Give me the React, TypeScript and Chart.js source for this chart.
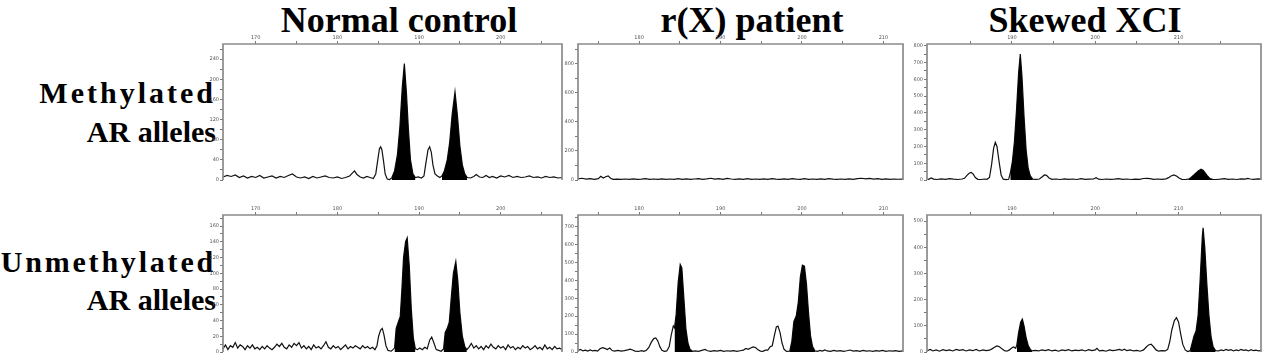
import React, { useEffect, useRef } from 'react';
import { Chart, registerables } from 'chart.js';

Chart.register(...registerables);

// ---------- Column / row titles ----------
const columnTitles = ['Normal control', 'r(X) patient', 'Skewed XCI'];
const rowTitles = [
  ['Methylated', 'AR alleles'],
  ['Unmethylated', 'AR alleles'],
];

// ---------- X-axis (size, bp) ranges per column ----------
const colXRange = [
  [166.0, 207.5],
  [172.5, 212.4],
  [179.8, 219.9],
];

// ---------- Normal control, methylated ----------
const ncMethX = [166.0, 166.5, 167.0, 167.5, 168.0, 168.5, 169.0, 169.5, 170.0, 170.5, 171.0, 171.5, 172.0, 172.5, 173.0, 173.5, 174.0, 174.5, 175.0, 175.5, 176.0, 176.5, 177.0, 177.5, 178.0, 178.5, 179.0, 179.5, 180.0, 180.5, 181.0, 181.5, 181.8, 182.1, 182.4, 182.8, 183.2, 183.6, 184.0, 184.4, 184.7, 184.95, 185.15, 185.3, 185.45, 185.65, 185.85, 186.1, 186.4, 186.65, 187.0, 187.35, 187.65, 187.95, 188.2, 188.45, 188.7, 188.95, 189.25, 189.55, 189.9, 190.3, 190.6, 190.85, 191.1, 191.3, 191.5, 191.7, 191.95, 192.25, 192.55, 192.8, 193.1, 193.45, 193.75, 194.05, 194.4, 194.7, 195.0, 195.3, 195.6, 195.9, 196.3, 196.7, 197.0, 197.4, 197.8, 198.2, 198.6, 199.0, 199.5, 200.0, 200.5, 201.0, 201.5, 202.0, 202.5, 203.0, 203.5, 204.0, 204.5, 205.0, 205.5, 206.0, 206.5, 207.0, 207.5];
const ncMethY = [6, 9, 7, 10, 5, 8, 4, 7, 5, 9, 4, 6, 8, 4, 7, 5, 9, 12, 6, 4, 6, 3, 7, 4, 6, 8, 5, 4, 6, 3, 5, 8, 13, 18, 11, 6, 4, 7, 5, 3, 12, 40, 62, 66, 60, 38, 12, 2, 1, 4, 18, 50, 105, 185, 231, 175, 100, 40, 12, 5, 6, 4, 8, 35, 60, 66, 55, 30, 12, 8, 5, 8, 18, 40, 75, 130, 175, 128, 68, 30, 12, 5, 4, 7, 11, 6, 5, 9, 5, 7, 4, 8, 6, 9, 5, 7, 5, 6, 8, 5, 6, 4, 7, 5, 6, 4, 5];
const ncMethBlack = [[186.5, 189.6], [192.7, 196.0]];

// ---------- Normal control, unmethylated ----------
const ncUnmX = [166.0, 166.3, 166.6, 166.9, 167.2, 167.5, 167.8, 168.1, 168.4, 168.7, 169.0, 169.3, 169.6, 169.9, 170.2, 170.5, 170.8, 171.1, 171.4, 171.7, 172.0, 172.3, 172.6, 172.9, 173.2, 173.5, 173.8, 174.1, 174.4, 174.7, 175.0, 175.3, 175.6, 175.9, 176.2, 176.5, 176.8, 177.1, 177.4, 177.7, 178.0, 178.3, 178.6, 178.9, 179.2, 179.5, 179.8, 180.1, 180.4, 180.7, 181.0, 181.3, 181.6, 181.9, 182.2, 182.5, 182.8, 183.1, 183.4, 183.7, 184.0, 184.3, 184.6, 184.85, 185.05, 185.3, 185.5, 185.7, 185.95, 186.2, 186.6, 187.0, 187.2, 187.45, 187.7, 187.9, 188.1, 188.35, 188.55, 188.8, 189.05, 189.3, 189.55, 189.8, 190.1, 190.4, 190.7, 191.0, 191.3, 191.55, 191.8, 192.1, 192.4, 192.7, 193.0, 193.2, 193.45, 193.7, 193.95, 194.2, 194.5, 194.75, 195.0, 195.3, 195.6, 195.85, 196.1, 196.4, 196.7, 197.0, 197.3, 197.6, 197.9, 198.2, 198.5, 198.8, 199.1, 199.4, 199.7, 200.0, 200.3, 200.6, 200.9, 201.2, 201.5, 201.8, 202.1, 202.4, 202.7, 203.0, 203.3, 203.6, 203.9, 204.2, 204.5, 204.8, 205.1, 205.4, 205.7, 206.0, 206.3, 206.6, 206.9, 207.2, 207.5];
const ncUnmY = [4, 9, 3, 8, 6, 12, 5, 9, 7, 3, 8, 5, 9, 4, 6, 3, 7, 4, 8, 5, 3, 6, 10, 7, 11, 6, 4, 9, 6, 11, 8, 12, 5, 8, 4, 7, 3, 9, 5, 7, 4, 8, 13, 6, 4, 8, 5, 7, 3, 6, 9, 4, 7, 5, 8, 6, 4, 8, 5, 7, 4, 6, 3, 8, 20, 28, 30, 22, 8, 2, 1, 5, 30, 38, 45, 80, 120, 140, 145, 110, 55, 18, 4, 3, 5, 3, 6, 4, 15, 19, 12, 3, 2, 1, 4, 25, 30, 38, 70, 100, 115, 90, 50, 20, 7, 3, 6, 11, 5, 8, 4, 7, 3, 8, 5, 10, 6, 4, 8, 5, 7, 3, 9, 5, 7, 3, 6, 4, 8, 5, 7, 3, 5, 8, 4, 6, 3, 9, 4, 6, 3, 7, 4, 5, 3];
const ncUnmBlack = [[186.95, 189.6], [192.95, 195.9]];

// ---------- r(X) patient, methylated ----------
const rxMethX = [172.5, 173.0, 173.5, 174.0, 174.5, 175.0, 175.3, 175.6, 175.9, 176.2, 176.5, 176.8, 177.3, 177.8, 178.3, 178.8, 179.3, 179.8, 180.3, 180.8, 181.3, 181.8, 182.3, 182.8, 183.3, 183.8, 184.3, 184.8, 185.3, 185.8, 186.3, 186.8, 187.3, 187.8, 188.3, 188.8, 189.3, 189.8, 190.3, 190.8, 191.3, 191.8, 192.3, 192.8, 193.3, 193.8, 194.3, 194.8, 195.3, 195.8, 196.3, 196.8, 197.3, 197.8, 198.3, 198.8, 199.3, 199.8, 200.3, 200.8, 201.3, 201.8, 202.3, 202.8, 203.3, 203.8, 204.3, 204.8, 205.3, 205.8, 206.3, 206.8, 207.3, 207.8, 208.3, 208.8, 209.3, 209.8, 210.3, 210.8, 211.3, 211.8, 212.4];
const rxMethY = [8, 12, 6, 10, 5, 9, 25, 14, 22, 28, 12, 5, 6, 4, 7, 5, 8, 4, 6, 9, 5, 7, 4, 8, 5, 7, 4, 9, 5, 8, 4, 7, 10, 5, 8, 12, 6, 9, 5, 11, 7, 4, 8, 5, 9, 4, 7, 5, 8, 4, 9, 6, 4, 8, 5, 10, 6, 4, 9, 5, 7, 4, 8, 5, 9, 6, 4, 7, 5, 8, 4, 9, 12, 8, 11, 6, 9, 5, 8, 4, 7, 5, 6];
const rxMethBlack: number[][] = [];

// ---------- r(X) patient, unmethylated ----------
const rxUnmX = [172.5, 172.8, 173.1, 173.4, 173.7, 174.0, 174.3, 174.6, 174.9, 175.2, 175.5, 175.8, 176.1, 176.4, 176.7, 177.0, 177.4, 177.8, 178.2, 178.6, 178.9, 179.2, 179.5, 179.9, 180.3, 180.6, 180.9, 181.2, 181.5, 181.8, 182.05, 182.3, 182.55, 182.8, 183.1, 183.4, 183.7, 183.95, 184.2, 184.35, 184.55, 184.8, 185.05, 185.25, 185.5, 185.75, 186.0, 186.25, 186.55, 186.9, 187.3, 187.7, 188.1, 188.4, 188.8, 189.2, 189.6, 190.0, 190.4, 190.8, 191.2, 191.6, 192.0, 192.4, 192.8, 193.1, 193.4, 193.7, 194.0, 194.3, 194.6, 194.9, 195.2, 195.5, 195.8, 196.1, 196.35, 196.6, 196.85, 197.05, 197.3, 197.55, 197.8, 198.1, 198.5, 198.75, 199.0, 199.3, 199.55, 199.8, 200.05, 200.3, 200.55, 200.8, 201.05, 201.3, 201.6, 201.9, 202.2, 202.5, 202.8, 203.1, 203.5, 203.9, 204.3, 204.7, 205.1, 205.5, 205.9, 206.3, 206.7, 207.1, 207.5, 207.9, 208.3, 208.7, 209.1, 209.5, 209.9, 210.3, 210.7, 211.1, 211.5, 211.9, 212.4];
const rxUnmY = [8, 14, 6, 10, 5, 12, 6, 9, 5, 18, 24, 20, 14, 22, 8, 5, 9, 5, 8, 12, 16, 11, 5, 3, 8, 4, 10, 25, 55, 75, 79, 62, 30, 10, 4, 6, 30, 95, 145, 135, 210, 390, 489, 470, 300, 130, 50, 15, 4, 6, 4, 9, 14, 7, 4, 8, 5, 9, 4, 7, 5, 8, 4, 7, 10, 20, 15, 22, 28, 25, 12, 5, 4, 10, 10, 30, 35, 90, 140, 145, 110, 50, 15, 3, 5, 60, 170, 202, 280, 420, 485, 480, 380, 220, 90, 30, 6, 4, 9, 5, 12, 6, 4, 9, 5, 8, 4, 7, 11, 5, 8, 4, 9, 5, 7, 4, 8, 5, 9, 4, 7, 5, 8, 4, 6];
const rxUnmBlack = [[184.33, 186.6], [198.45, 201.65]];

// ---------- Skewed XCI, methylated ----------
const skMethX = [179.8, 180.0, 180.3, 180.6, 181.0, 181.5, 182.0, 182.5, 183.0, 183.5, 184.0, 184.3, 184.6, 184.9, 185.1, 185.35, 185.6, 185.9, 186.3, 186.7, 187.0, 187.3, 187.55, 187.8, 188.0, 188.2, 188.45, 188.7, 188.95, 189.3, 189.6, 189.8, 190.05, 190.3, 190.55, 190.8, 191.0, 191.2, 191.45, 191.7, 191.95, 192.2, 192.5, 192.9, 193.3, 193.6, 193.9, 194.15, 194.45, 194.8, 195.3, 195.8, 196.3, 196.8, 197.3, 197.8, 198.3, 198.8, 199.3, 199.8, 200.1, 200.4, 200.8, 201.3, 201.8, 202.3, 202.8, 203.3, 203.8, 204.3, 204.8, 205.3, 205.8, 206.2, 206.6, 207.0, 207.5, 208.0, 208.5, 208.8, 209.1, 209.45, 209.8, 210.1, 210.4, 210.8, 211.2, 211.5, 211.8, 212.1, 212.4, 212.7, 212.95, 213.2, 213.5, 213.8, 214.1, 214.5, 215.0, 215.5, 216.0, 216.5, 217.0, 217.5, 218.0, 218.3, 218.6, 219.0, 219.5, 219.9];
const skMethY = [6, 4, 12, 5, 3, 7, 4, 8, 5, 3, 6, 10, 28, 42, 45, 35, 15, 4, 3, 6, 4, 15, 90, 190, 224, 200, 110, 30, 5, 2, 4, 40, 110, 230, 420, 640, 750, 620, 380, 180, 70, 25, 5, 4, 6, 18, 30, 28, 12, 4, 6, 3, 7, 4, 6, 3, 8, 4, 5, 6, 14, 5, 3, 6, 4, 5, 8, 4, 6, 3, 5, 4, 9, 10, 8, 4, 6, 4, 7, 14, 24, 30, 22, 10, 4, 3, 5, 15, 28, 42, 55, 64, 58, 42, 22, 8, 4, 3, 5, 8, 4, 6, 3, 7, 5, 10, 6, 4, 7, 5];
const skMethBlack = [[189.65, 192.55], [211.15, 214.1]];

// ---------- Skewed XCI, unmethylated ----------
const skUnmX = [179.8, 180.2, 180.5, 180.9, 181.3, 181.7, 182.1, 182.5, 182.9, 183.3, 183.7, 184.1, 184.5, 184.9, 185.3, 185.7, 186.1, 186.5, 186.9, 187.3, 187.6, 187.9, 188.2, 188.5, 188.8, 189.1, 189.4, 189.7, 190.0, 190.2, 190.45, 190.6, 190.8, 191.05, 191.25, 191.45, 191.7, 191.95, 192.2, 192.4, 192.8, 193.2, 193.6, 194.0, 194.4, 194.8, 195.2, 195.6, 196.0, 196.4, 196.8, 197.2, 197.6, 198.0, 198.4, 198.8, 199.2, 199.6, 200.0, 200.2, 200.5, 200.9, 201.3, 201.7, 202.1, 202.5, 202.9, 203.2, 203.5, 203.8, 204.2, 204.6, 205.0, 205.4, 205.8, 206.1, 206.4, 206.7, 207.0, 207.3, 207.6, 208.0, 208.4, 208.7, 208.95, 209.2, 209.5, 209.75, 210.0, 210.25, 210.5, 210.8, 211.1, 211.4, 211.6, 211.85, 212.1, 212.35, 212.6, 212.85, 212.95, 213.15, 213.4, 213.65, 213.9, 214.15, 214.45, 214.8, 215.1, 215.4, 215.7, 216.0, 216.3, 216.6, 216.9, 217.2, 217.5, 217.8, 218.1, 218.4, 218.7, 219.0, 219.3, 219.6, 219.9];
const skUnmY = [5, 10, 4, 8, 3, 9, 5, 8, 4, 10, 6, 9, 4, 8, 5, 10, 4, 8, 5, 7, 12, 18, 23, 20, 12, 5, 3, 8, 16, 19, 14, 30, 75, 115, 126, 100, 55, 25, 10, 4, 6, 4, 8, 5, 9, 4, 7, 3, 8, 5, 9, 4, 7, 5, 8, 4, 9, 5, 8, 14, 4, 6, 3, 8, 5, 7, 10, 6, 11, 5, 8, 4, 6, 3, 8, 18, 27, 30, 20, 8, 3, 5, 4, 10, 40, 85, 120, 131, 115, 70, 30, 8, 2, 5, 30, 60, 80, 140, 280, 440, 474, 400, 260, 140, 60, 20, 5, 4, 8, 5, 10, 6, 9, 4, 8, 5, 10, 6, 8, 4, 9, 5, 7, 4, 6];
const skUnmBlack = [[190.5, 192.45], [211.4, 214.5]];

// ---------- Y scales: [max, major step, minor step] ----------
const ncMethYScale = [270, 40, 20];
const ncUnmYScale = [174, 20, 10];
const rxMethYScale = [935, 200, 100];
const rxUnmYScale = [765, 100, 50];
const skMethYScale = [810, 100, 50];
const skUnmYScale = [523, 100, 50];

// ---------- Layout (pixels) ----------
const colPlotX = [
  [223, 562],
  [578, 903],
  [927, 1261],
];
const rowPlotY = [
  [44, 180],
  [215, 352],
];
const AXIS_W = 24;
const AXIS_H = 10;
const PAD = 4;

const framePlugin = {
  id: 'frame',
  afterDatasetsDraw(chart: any) {
    const { ctx, chartArea } = chart;
    const { left, top, right, bottom } = chartArea;
    ctx.save();
    ctx.strokeStyle = '#8a8a8a';
    ctx.lineWidth = 1.7;
    ctx.beginPath();
    ctx.moveTo(left, bottom);
    ctx.lineTo(left, top);
    ctx.lineTo(right, top);
    ctx.lineTo(right, bottom);
    ctx.stroke();
    ctx.restore();
  },
};

type PanelProps = {
  xs: number[];
  ys: number[];
  black: number[][];
  xRange: number[];
  yScale: number[];
  plotX: number[];
  plotY: number[];
};

function Panel({ xs, ys, black, xRange, yScale, plotX, plotY }: PanelProps) {
  const ref = useRef<HTMLCanvasElement>(null);
  const plotW = plotX[1] - plotX[0];
  const plotH = plotY[1] - plotY[0];
  const cw = plotW + AXIS_W + PAD;
  const ch = plotH + AXIS_H + PAD;

  useEffect(() => {
    if (!ref.current) return;
    const [xMin, xMax] = xRange;
    const [yMax, yMajor, yMinor] = yScale;
    const pts = xs.map((x, i) => ({ x, y: ys[i] }));
    const inBlack = (x: number) => black.some(([a, b]) => x >= a && x <= b);
    const fillPts = xs.map((x, i) => ({ x, y: inBlack(x) ? ys[i] : null }));

    const chart = new Chart(ref.current, {
      type: 'line',
      data: {
        datasets: [
          {
            data: fillPts as any,
            borderWidth: 0,
            borderColor: 'rgba(0,0,0,0)',
            backgroundColor: '#000',
            fill: 'origin',
            pointRadius: 0,
            spanGaps: false,
            tension: 0,
            clip: 4,
          } as any,
          {
            data: pts,
            borderColor: '#111',
            borderWidth: 1.2,
            pointRadius: 0,
            fill: false,
            tension: 0,
            clip: 4,
          } as any,
        ],
      },
      options: {
        animation: false,
        responsive: false,
        events: [],
        layout: { padding: { left: 0, top: 0, right: PAD, bottom: PAD } },
        plugins: { legend: { display: false }, tooltip: { enabled: false } },
        scales: {
          x: {
            type: 'linear',
            position: 'top',
            min: xMin,
            max: xMax,
            afterBuildTicks: (s: any) => {
              const t: any[] = [];
              for (let v = Math.ceil(xMin / 5) * 5; v <= xMax; v += 5) {
                if (v - xMin > 1 && xMax - v > 1) t.push({ value: v });
              }
              s.ticks = t;
            },
            afterFit: (s: any) => {
              s.height = AXIS_H;
            },
            ticks: {
              autoSkip: false,
              maxRotation: 0,
              padding: 0,
              color: '#555',
              font: { size: 5, family: 'DejaVu Sans' },
              callback: (v: any) => (Number(v) % 10 === 0 ? String(v) : ''),
            },
            grid: { drawOnChartArea: false, tickLength: 3, color: '#777' },
            border: { display: false },
          },
          y: {
            type: 'linear',
            position: 'left',
            min: 0,
            max: yMax,
            afterBuildTicks: (s: any) => {
              const t: any[] = [];
              for (let v = 0; v <= yMax; v += yMinor) t.push({ value: v });
              s.ticks = t;
            },
            afterFit: (s: any) => {
              s.width = AXIS_W;
            },
            ticks: {
              autoSkip: false,
              padding: 1,
              color: '#555',
              font: { size: 5, family: 'DejaVu Sans' },
              callback: (v: any) => (Number(v) % yMajor === 0 ? String(v) : ''),
            },
            grid: { drawOnChartArea: false, tickLength: 3, color: '#777' },
            border: { display: false },
          },
        },
      },
      plugins: [framePlugin],
    });
    return () => chart.destroy();
  }, []);

  return (
    <canvas
      ref={ref}
      width={cw}
      height={ch}
      style={{
        position: 'absolute',
        left: plotX[0] - AXIS_W,
        top: plotY[0] - AXIS_H,
        width: cw,
        height: ch,
      }}
    />
  );
}

const serif = "'Liberation Serif', 'Times New Roman', serif";

export default function App() {
  const panels = [
    { xs: ncMethX, ys: ncMethY, black: ncMethBlack, yScale: ncMethYScale, col: 0, row: 0 },
    { xs: rxMethX, ys: rxMethY, black: rxMethBlack, yScale: rxMethYScale, col: 1, row: 0 },
    { xs: skMethX, ys: skMethY, black: skMethBlack, yScale: skMethYScale, col: 2, row: 0 },
    { xs: ncUnmX, ys: ncUnmY, black: ncUnmBlack, yScale: ncUnmYScale, col: 0, row: 1 },
    { xs: rxUnmX, ys: rxUnmY, black: rxUnmBlack, yScale: rxUnmYScale, col: 1, row: 1 },
    { xs: skUnmX, ys: skUnmY, black: skUnmBlack, yScale: skUnmYScale, col: 2, row: 1 },
  ];
  const titleCenters = [399, 752, 1085];
  const rowTops = [
    [78, 117],
    [247, 285],
  ];
  const rowSpacing = [
    [3, 0],
    [2.8, 0],
  ];

  return (
    <div
      style={{
        position: 'absolute',
        left: 0,
        top: 0,
        width: 1267,
        height: 355,
        background: '#fff',
        overflow: 'hidden',
      }}
    >
      {columnTitles.map((t, i) => (
        <div
          key={t}
          style={{
            position: 'absolute',
            top: 2,
            left: titleCenters[i] - 200,
            width: 400,
            textAlign: 'center',
            fontFamily: serif,
            fontWeight: 'bold',
            fontSize: 36,
            lineHeight: '36px',
            color: '#000',
            whiteSpace: 'nowrap',
          }}
        >
          {t}
        </div>
      ))}
      {rowTitles.map((lines, r) =>
        lines.map((l, k) => (
          <div
            key={r + '-' + k}
            style={{
              position: 'absolute',
              top: rowTops[r][k],
              left: 0,
              width: 216,
              textAlign: 'right',
              fontFamily: serif,
              fontWeight: 'bold',
              fontSize: 30,
              lineHeight: '30px',
              letterSpacing: rowSpacing[r][k],
              color: '#000',
              whiteSpace: 'nowrap',
            }}
          >
            {l}
          </div>
        ))
      )}
      {panels.map((p, i) => (
        <Panel
          key={i}
          xs={p.xs}
          ys={p.ys}
          black={p.black}
          xRange={colXRange[p.col]}
          yScale={p.yScale}
          plotX={colPlotX[p.col]}
          plotY={rowPlotY[p.row]}
        />
      ))}
    </div>
  );
}
